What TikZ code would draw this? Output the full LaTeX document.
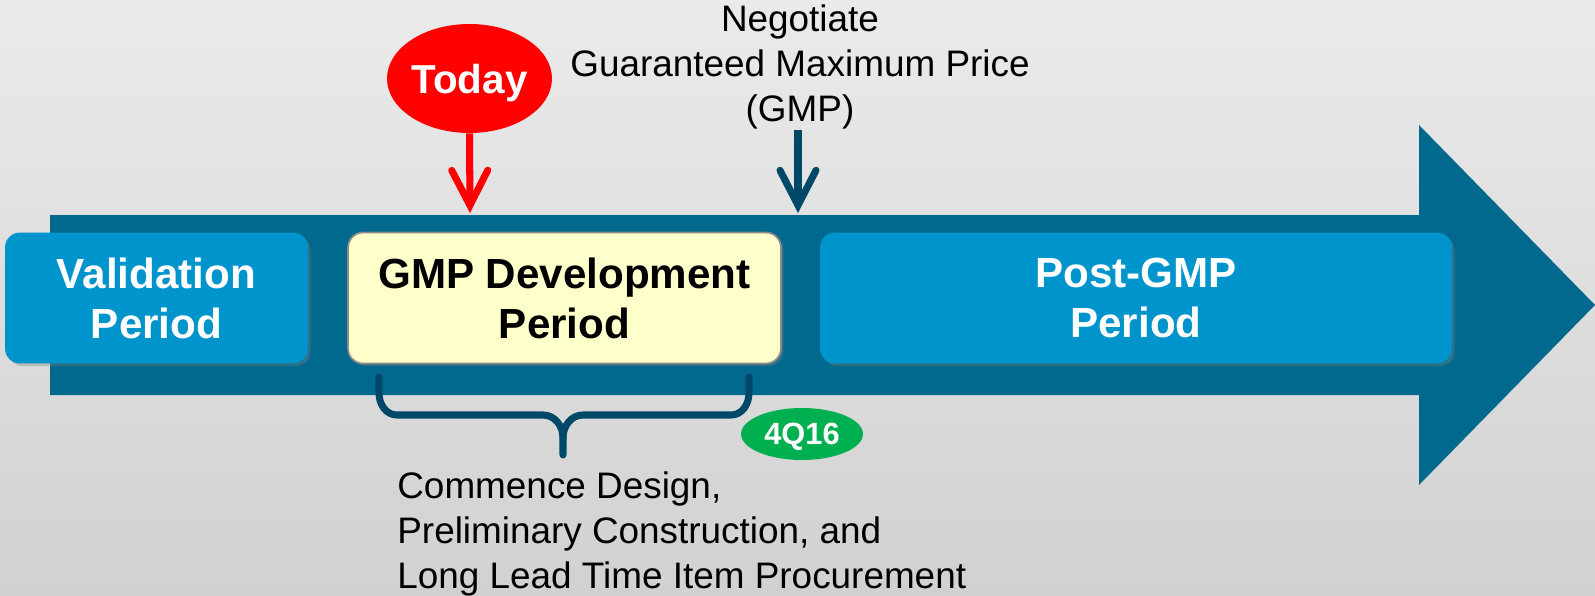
\documentclass[tikz,border=0pt]{standalone}
\usepackage{fontspec}
\setmainfont{Liberation Sans}
\usetikzlibrary{arrows.meta,shapes.geometric,shadows}
\definecolor{arrowblue}{RGB}{0,105,141}
\definecolor{boxblue}{RGB}{0,148,204}
\definecolor{markblue}{RGB}{0,72,104}
\definecolor{gmpyellow}{RGB}{255,255,204}
\definecolor{todayred}{RGB}{255,0,0}
\definecolor{qgreen}{RGB}{0,176,80}

\begin{document}
\begin{tikzpicture}[x=0.02cm,y=-0.02cm]
\tikzset{period/.style={rounded corners=0.3cm,minimum height=2.62cm,inner sep=0pt,align=center,text depth=-3.5pt,font=\fontsize{24}{28.5}\selectfont\bfseries,drop shadow={shadow xshift=1.5pt,shadow yshift=-1.5pt,opacity=0.35}}}
\tikzset{bluebox/.style={period,fill=boxblue,text=white}}
\tikzset{plain/.style={inner sep=0pt,align=center,font=\fontsize{21}{25.8}\selectfont}}
\tikzset{pointer/.style={line width=4pt,-{Straight Barb[length=0.7cm,width=0.72cm,line cap=round]}}}
\tikzset{brace/.style={draw=markblue,line width=4pt,line cap=round}}

\shade[top color=black!8,bottom color=black!18] (0,0) rectangle (1595,595);
\useasboundingbox (0,0) rectangle (1595,595);

% timeline arrow
\fill[arrowblue] (50,215) -- (1419,215) -- (1419,125) -- (1595,305) -- (1419,485) -- (1419,395) -- (50,395) -- cycle;

\node[bluebox,minimum width=6.06cm] (valid) at (156.5,298) {Validation\\Period};
\node[period,fill=gmpyellow,draw=black!45,line width=1pt,minimum width=8.66cm,text=black] (devel) at (564.5,298) {GMP Development\\Period};
\node[bluebox,minimum width=12.64cm] (post) at (1136,298) {Post-GMP\\Period};

% markers
\node[ellipse,fill=todayred,text=white,inner sep=0pt,text depth=0pt,minimum width=3.3cm,minimum height=2.18cm,font=\fontsize{23}{28}\selectfont\bfseries] (today) at (469.5,78.5) {Today};
\coordinate (todaymark) at (470,213);
\draw[pointer,todayred] (today.south) -- (todaymark);

\node[plain] (negotiate) at (800,67) {Negotiate\\Guaranteed Maximum Price\\(GMP)};
\coordinate (gmpmark) at (798,213);
\draw[pointer,markblue] (negotiate.south -| gmpmark) -- (gmpmark);

% brace under development period
\draw[brace] (379,377) -- (379,393) to[out=-90,in=180] (397,415) -- (543,415) to[out=0,in=90] (563,438) -- (563,455);
\draw[brace] (749,377) -- (749,393) to[out=-90,in=0] (731,415) -- (583,415) to[out=180,in=90] (563,438);

\node[ellipse,fill=qgreen,text=white,inner sep=0pt,text depth=0pt,minimum width=2.44cm,minimum height=1.04cm,font=\fontsize{17.5}{21}\selectfont\bfseries] (quarter) at (802,434) {4Q16};

\node[plain,align=left,anchor=west] (tasks) at (397,534) {Commence Design,\\Preliminary Construction, and\\Long Lead Time Item Procurement};

\end{tikzpicture}
\end{document}
